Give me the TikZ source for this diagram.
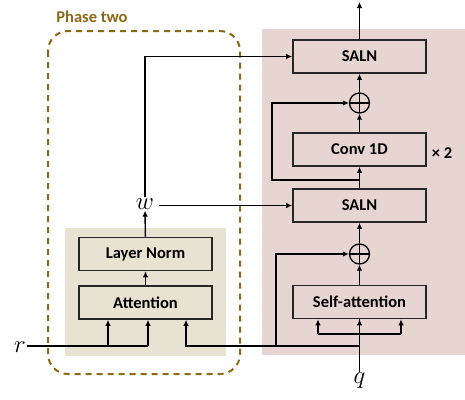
\documentclass[tikz,border=0pt]{standalone}
\usepackage{fontspec}
\setmainfont{Carlito}
\usetikzlibrary{arrows.meta}
\definecolor{pinkbg}{RGB}{231,213,210}
\definecolor{beigebg}{RGB}{232,226,210}
\definecolor{phasec}{RGB}{140,105,20}
\begin{document}
\begin{tikzpicture}[x=1pt,y=-1pt,
  blk/.style={draw=black!85,line width=1.6pt,minimum width=133pt,minimum height=33pt,inner sep=0pt,font=\fontsize{16.5}{17}\selectfont\bfseries},
  arr/.style={line width=1.4pt,-{Latex[length=6pt,width=5.5pt]}},
  ln/.style={line width=1.4pt},
  plus/.style={draw,line width=1.3pt,circle,minimum size=20pt,inner sep=0pt,
    path picture={\draw[line width=1.3pt] (path picture bounding box.north)--(path picture bounding box.south)
      (path picture bounding box.west)--(path picture bounding box.east);}},
  var/.style={inner sep=1pt,font=\fontsize{25}{25}\selectfont}]
\useasboundingbox (0,0) rectangle (465,399);
\fill[pinkbg] (262,29) rectangle (465,355);
\fill[beigebg] (65,228) rectangle (226,356);
\draw[phasec,line width=2pt,dash pattern=on 6pt off 5pt,rounded corners=20pt] (48,31) rectangle (240,374);
\node[text=phasec,font=\fontsize{16.5}{17}\selectfont\bfseries] (phase) at (92,17) {Phase two};

\node[blk] (saln2) at (359.5,56.5) {SALN};
\node[blk] (conv) at (359.5,149.5) {Conv 1D};
\node[blk] (saln1) at (359.5,205.5) {SALN};
\node[blk] (selfatt) at (359.5,302) {Self-attention};
\node[blk] (layernorm) at (145.5,254) {Layer Norm};
\node[blk] (attention) at (145.5,302.5) {Attention};
\node[plus] (plus2) at (359.5,103) {};
\node[plus] (plus1) at (359.5,254) {};
\node[font=\fontsize{16.5}{17}\selectfont\bfseries] (times) at (442,153) {× 2};
\node[var] (w) at (145,204) {$w$};
\node[var] (r) at (20,347) {$r$};
\node[var] (q) at (359.5,381) {$q$};

\coordinate (out) at (359.5,2);
\coordinate (sk2) at (359.5,180);
\coordinate (qb) at (359.5,334);
\coordinate (qj) at (359.5,346);

\draw[arr] (saln2) -- (out);
\draw[arr] (plus2) -- (saln2);
\draw[arr] (conv) -- (plus2);
\draw[arr] (saln1) -- (conv);
\draw[arr] (plus1) -- (saln1);
\draw[arr] (selfatt) -- (plus1);
\draw[arr] (sk2) -- ++(-87.5,0) |- (plus2.west);
\draw[ln] (q.north) -- (selfatt.south);
\draw[arr] (qj) -- (selfatt.south);
\draw[ln] ([xshift=-41.5pt]qb) -- ([xshift=41.5pt]qb);
\draw[arr] ([xshift=-41.5pt]qb) -- ([xshift=-41.5pt]selfatt.south);
\draw[arr] ([xshift=41.5pt]qb) -- ([xshift=41.5pt]selfatt.south);
\draw[arr] (qj) -| ([xshift=40.5pt]attention.south);
\draw[arr] ([xshift=-83.5pt]qj) |- (plus1.west);
\draw[ln] (r.east |- qj) -- ([xshift=2.5pt]attention.south |- qj);
\draw[arr] ([xshift=-37.5pt]attention.south |- qj) -- ([xshift=-37.5pt]attention.south);
\draw[arr] ([xshift=2.5pt]attention.south |- qj) -- ([xshift=2.5pt]attention.south);
\draw[arr] (attention) -- (layernorm);
\draw[arr] (layernorm) -- (w);
\draw[arr] ([xshift=4pt]w.east |- saln1.west) -- (saln1.west);
\draw[arr] (w.north) |- (saln2.west);
\end{tikzpicture}
\end{document}
